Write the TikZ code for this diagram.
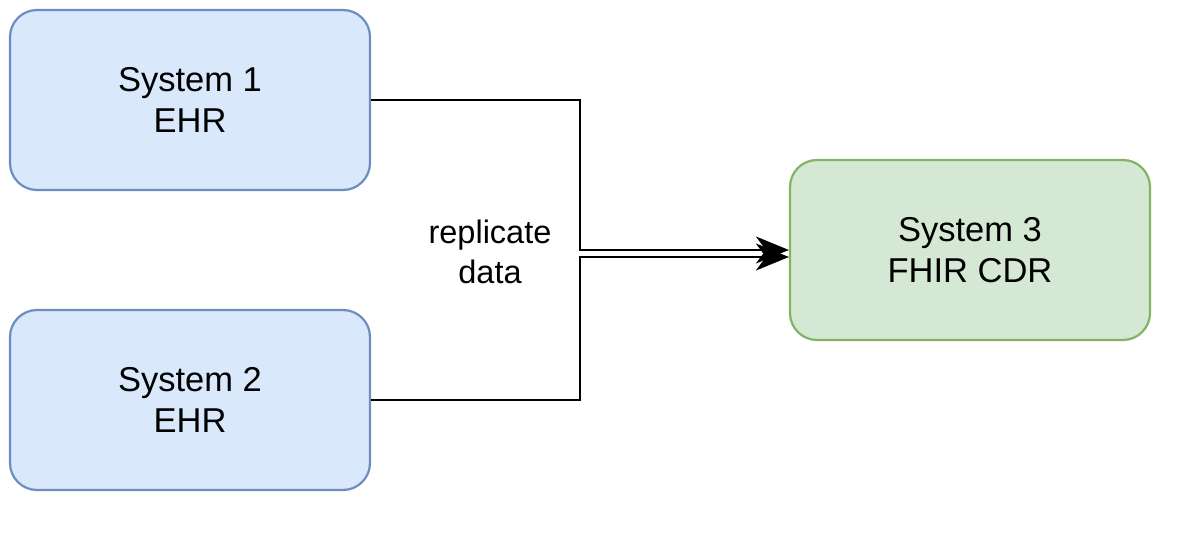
\documentclass[tikz,border=0pt]{standalone}
\usepackage{fontspec}
\setmainfont{Liberation Sans}
\usetikzlibrary{arrows.meta}
\definecolor{bluefill}{HTML}{DAE8FC}
\definecolor{bluedraw}{HTML}{6C8EBF}
\definecolor{greenfill}{HTML}{D5E8D4}
\definecolor{greendraw}{HTML}{82B366}
\tikzset{
  sysbox/.style={rectangle, rounded corners=27pt, line width=2.2pt,
    minimum width=360pt, minimum height=180pt, align=center,
    font=\fontsize{34.5}{41}\selectfont, inner sep=0pt},
  bluebox/.style={sysbox, fill=bluefill, draw=bluedraw},
  greenbox/.style={sysbox, fill=greenfill, draw=greendraw},
  flow/.style={line width=2.3pt, -{Stealth[length=33pt, width=27pt, inset=10pt]}},
  lbl/.style={font=\fontsize{32.5}{40}\selectfont, align=center, inner sep=0pt}
}
\begin{document}
\begin{tikzpicture}[x=1pt, y=-1pt]
  \useasboundingbox (0,0) rectangle (1203,543);
  \node[bluebox] (s1) at (190,100) {System 1\\EHR};
  \node[bluebox] (s2) at (190,400) {System 2\\EHR};
  \node[greenbox] (s3) at (970,250) {System 3\\FHIR CDR};
  \coordinate (j1) at (580,250);
  \coordinate (j2) at (580,257);
  \draw[flow] (s1.east) -| (j1) -- (s3.west |- j1);
  \draw[flow] (s2.east) -| (j2) -- (s3.west |- j2);
  \node[lbl] (rep) at (490,252) {replicate\\data};
\end{tikzpicture}
\end{document}
